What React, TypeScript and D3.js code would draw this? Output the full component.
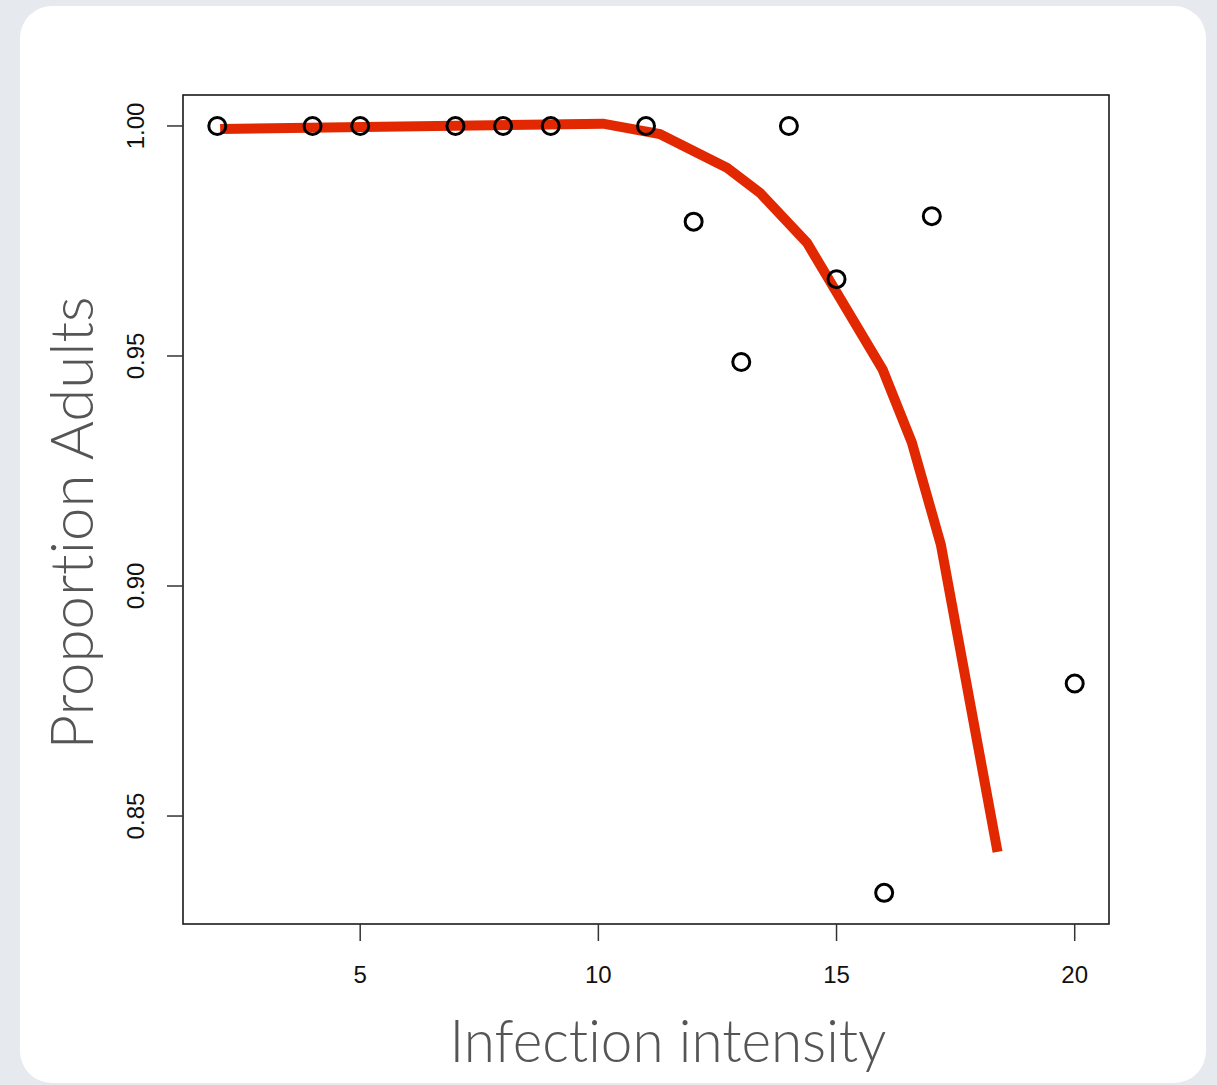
import React from "react";
import * as d3 from "d3";

const pointX = [2, 4, 5, 7, 8, 9, 11, 12, 13, 14, 15, 16, 17, 20];
const pointY = [1, 1, 1, 1, 1, 1, 1, 0.9792, 0.9487, 1, 0.9667, 0.8333, 0.9804, 0.8788];

const curveX = [2.06, 10.1, 11.29, 12.7, 13.39, 14.38, 15.97, 16.58, 17.19, 18.38];
const curveY = [0.99935, 1.0005, 0.99826, 0.9909, 0.9855, 0.9746, 0.947, 0.9312, 0.909, 0.8422];

const xTicks = [5, 10, 15, 20];
const yTicks = [0.85, 0.9, 0.95, 1.0];
const xTitle = "Infection intensity";
const yTitle = "Proportion Adults";

const W = 1217;
const H = 1085;
const plot = { left: 183, right: 1109, top: 95, bottom: 924 };

export default function App() {
  const x = d3.scaleLinear().domain([1.28, 20.72]).range([plot.left, plot.right]);
  const y = d3.scaleLinear().domain([0.82653, 1.00673]).range([plot.bottom, plot.top]);
  const line = d3
    .line<number>()
    .x((_, i) => x(curveX[i]))
    .y((d) => y(d));

  const titleStyle: React.CSSProperties = {
    fontVariantLigatures: "none",
    fontFeatureSettings: '"liga" 0, "clig" 0',
  };

  return (
    <svg
      width={W}
      height={H}
      style={{ position: "absolute", left: 0, top: 0, display: "block" }}
    >
      <rect x={0} y={0} width={W} height={H} fill="#e6e9ee" />
      <rect x={20} y={6} width={1186} height={1077} rx={32} ry={32} fill="#ffffff" />

      {/* plot frame */}
      <rect
        x={plot.left}
        y={plot.top}
        width={plot.right - plot.left}
        height={plot.bottom - plot.top}
        fill="none"
        stroke="#1a1a1a"
        strokeWidth={1.6}
      />

      {/* x ticks */}
      {xTicks.map((t) => (
        <g key={"x" + t}>
          <line x1={x(t)} x2={x(t)} y1={plot.bottom} y2={plot.bottom + 17} stroke="#333" strokeWidth={1.5} />
          <text
            x={x(t)}
            y={983}
            textAnchor="middle"
            fontFamily="Liberation Sans, Arial, sans-serif"
            fontSize={24}
            fill="#111"
          >
            {t}
          </text>
        </g>
      ))}

      {/* y ticks */}
      {yTicks.map((t) => (
        <g key={"y" + t}>
          <line x1={plot.left - 16} x2={plot.left} y1={y(t)} y2={y(t)} stroke="#333" strokeWidth={1.5} />
          <text
            transform={`translate(144,${y(t)}) rotate(-90)`}
            textAnchor="middle"
            fontFamily="Liberation Sans, Arial, sans-serif"
            fontSize={24}
            fill="#111"
          >
            {t.toFixed(2)}
          </text>
        </g>
      ))}

      {/* fitted curve */}
      <path
        d={line(curveY) || ""}
        fill="none"
        stroke="#e22800"
        strokeWidth={10}
        strokeLinejoin="miter"
        strokeLinecap="butt"
      />

      {/* points */}
      {pointX.map((px, i) => (
        <circle
          key={"p" + i}
          cx={x(px)}
          cy={y(pointY[i])}
          r={8.5}
          fill="none"
          stroke="#000"
          strokeWidth={3}
        />
      ))}

      {/* axis titles */}
      <text
        x={668}
        y={1062}
        textAnchor="middle"
        fontFamily="Lato, 'Open Sans', sans-serif"
        fontWeight={300}
        fontSize={60}
        fill="#555"
        textLength={437}
        lengthAdjust="spacingAndGlyphs"
        style={titleStyle}
      >
        {xTitle}
      </text>
      <text
        transform={`translate(93,523) rotate(-90)`}
        textAnchor="middle"
        fontFamily="Lato, 'Open Sans', sans-serif"
        fontWeight={300}
        fontSize={60}
        fill="#555"
        textLength={453}
        lengthAdjust="spacingAndGlyphs"
        style={titleStyle}
      >
        {yTitle}
      </text>
    </svg>
  );
}
